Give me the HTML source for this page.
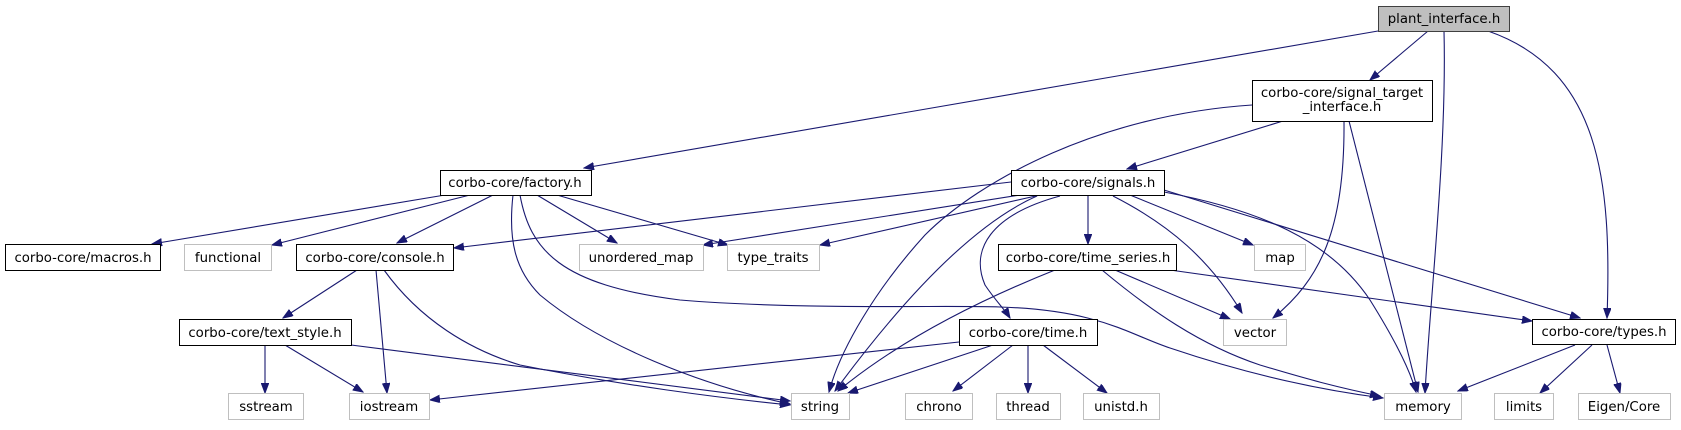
<!DOCTYPE html>
<html><head><meta charset="utf-8"><style>
html,body{margin:0;padding:0;background:#fff;}
svg text{font-family:"DejaVu Sans","Liberation Sans",sans-serif;font-size:13.3px;fill:#000;}
</style></head><body>
<svg width="1681" height="425" viewBox="0 0 1681 425" xmlns="http://www.w3.org/2000/svg">
<defs>
<marker id="a" markerUnits="userSpaceOnUse" markerWidth="11" markerHeight="8" refX="10" refY="3.75" orient="auto">
<path d="M0,0 L10,3.75 L0,7.5 z" fill="#191970" stroke="#191970"/>
</marker>
</defs>
<g fill="none" stroke="#191970" stroke-width="1.1" marker-end="url(#a)">
<!-- plant -->
<path d="M1378,31 L584,168"/>
<path d="M1428,31 L1370,80"/>
<path d="M1444,31 C1447,150 1430,300 1425,393"/>
<path d="M1488,31 C1600,70 1612,180 1607,318"/>
<!-- signal_target -->
<path d="M1252,105 C1100,115 980,180 925,235 C875,290 840,350 829,392"/>
<path d="M1283,121 L1127,169"/>
<path d="M1344,121 C1345,230 1320,280 1273,318"/>
<path d="M1349,121 L1418,392"/>
<!-- factory -->
<path d="M445,195 L152,244"/>
<path d="M470,195 L272,245"/>
<path d="M493,195 L397,243"/>
<path d="M513,195 C508,240 515,270 540,295 C600,345 700,385 790,404"/>
<path d="M520,195 C530,250 560,285 680,300 C800,310 950,305 1000,307 C1100,310 1130,335 1170,348 C1250,375 1320,390 1383,398"/>
<path d="M537,195 L617,243"/>
<path d="M557,195 L728,245"/>
<!-- signals -->
<path d="M1011,182 L454,248"/>
<path d="M1020,195 L703,245"/>
<path d="M1040,195 L820,245"/>
<path d="M1088,195 L1088,244"/>
<path d="M1060,196 C990,215 970,250 985,285 C995,300 1005,310 1010,318"/>
<path d="M1037,196 C960,230 880,330 835,391"/>
<path d="M1113,196 C1170,225 1210,260 1242,313"/>
<path d="M1130,195 L1253,245"/>
<path d="M1164,192 C1260,210 1330,240 1370,300 C1395,340 1410,370 1416,392"/>
<path d="M1164,190 L1580,318"/>
<!-- time_series -->
<path d="M1055,270 C980,300 900,340 838,391"/>
<path d="M1115,270 L1230,319"/>
<path d="M1102,270 C1150,310 1200,345 1260,365 C1310,380 1340,388 1380,396"/>
<path d="M1170,270 L1532,321"/>
<!-- time -->
<path d="M959,342 L430,400"/>
<path d="M993,345 L848,393"/>
<path d="M1013,345 L953,391"/>
<path d="M1028,345 L1028,393"/>
<path d="M1043,345 L1107,393"/>
<!-- console -->
<path d="M357,270 L283,318"/>
<path d="M376,270 L387,393"/>
<path d="M384,270 C420,320 470,350 520,365 C620,385 720,398 790,405"/>
<!-- text_style -->
<path d="M265,345 L265,393"/>
<path d="M285,345 L363,392"/>
<path d="M351,345 L790,401"/>
<!-- types -->
<path d="M1575,345 L1458,391"/>
<path d="M1592,345 L1540,393"/>
<path d="M1607,345 L1620,393"/>
</g>
<g stroke-width="1">
<rect x="1378.5" y="6.5" width="131" height="25" fill="#bfbfbf" stroke="#404040"/>
<rect x="1252.5" y="80.5" width="180" height="41" fill="#fff" stroke="#000"/>
<rect x="440.5" y="170.5" width="151" height="25" fill="#fff" stroke="#000"/>
<rect x="1011.5" y="170.5" width="153" height="25" fill="#fff" stroke="#000"/>
<rect x="5.5" y="244.5" width="155" height="26" fill="#fff" stroke="#000"/>
<rect x="184.5" y="244.5" width="87" height="26" fill="#fff" stroke="#bfbfbf"/>
<rect x="296.5" y="244.5" width="157" height="26" fill="#fff" stroke="#000"/>
<rect x="579.5" y="244.5" width="124" height="26" fill="#fff" stroke="#bfbfbf"/>
<rect x="727.5" y="244.5" width="92" height="26" fill="#fff" stroke="#bfbfbf"/>
<rect x="998.5" y="244.5" width="178" height="26" fill="#fff" stroke="#000"/>
<rect x="1254.5" y="244.5" width="51" height="26" fill="#fff" stroke="#bfbfbf"/>
<rect x="179.5" y="319.5" width="172" height="26" fill="#fff" stroke="#000"/>
<rect x="959.5" y="319.5" width="138" height="26" fill="#fff" stroke="#000"/>
<rect x="1223.5" y="319.5" width="63" height="26" fill="#fff" stroke="#bfbfbf"/>
<rect x="1532.5" y="319.5" width="143" height="25" fill="#fff" stroke="#000"/>
<rect x="228.5" y="393.5" width="75" height="26" fill="#fff" stroke="#bfbfbf"/>
<rect x="349.5" y="393.5" width="80" height="26" fill="#fff" stroke="#bfbfbf"/>
<rect x="791.5" y="393.5" width="58" height="26" fill="#fff" stroke="#bfbfbf"/>
<rect x="905.5" y="393.5" width="67" height="26" fill="#fff" stroke="#bfbfbf"/>
<rect x="996.5" y="393.5" width="64" height="26" fill="#fff" stroke="#bfbfbf"/>
<rect x="1083.5" y="393.5" width="76" height="26" fill="#fff" stroke="#bfbfbf"/>
<rect x="1384.5" y="393.5" width="77" height="26" fill="#fff" stroke="#bfbfbf"/>
<rect x="1494.5" y="393.5" width="59" height="26" fill="#fff" stroke="#bfbfbf"/>
<rect x="1578.5" y="393.5" width="92" height="26" fill="#fff" stroke="#bfbfbf"/>
</g>
<g text-anchor="middle">
<text x="1444" y="23">plant_interface.h</text>
<text x="1342" y="97">corbo-core/signal_target</text>
<text x="1342" y="111">_interface.h</text>
<text x="515" y="187">corbo-core/factory.h</text>
<text x="1088" y="187">corbo-core/signals.h</text>
<text x="83" y="262">corbo-core/macros.h</text>
<text x="228" y="262">functional</text>
<text x="375" y="262">corbo-core/console.h</text>
<text x="641" y="262">unordered_map</text>
<text x="773" y="262">type_traits</text>
<text x="1088" y="262">corbo-core/time_series.h</text>
<text x="1280" y="262">map</text>
<text x="265" y="337">corbo-core/text_style.h</text>
<text x="1028" y="337">corbo-core/time.h</text>
<text x="1255" y="337">vector</text>
<text x="1604" y="336">corbo-core/types.h</text>
<text x="266" y="411">sstream</text>
<text x="389" y="411">iostream</text>
<text x="820" y="411">string</text>
<text x="939" y="411">chrono</text>
<text x="1028" y="411">thread</text>
<text x="1121" y="411">unistd.h</text>
<text x="1423" y="411">memory</text>
<text x="1524" y="411">limits</text>
<text x="1624" y="411">Eigen/Core</text>
</g>
</svg>
</body></html>
